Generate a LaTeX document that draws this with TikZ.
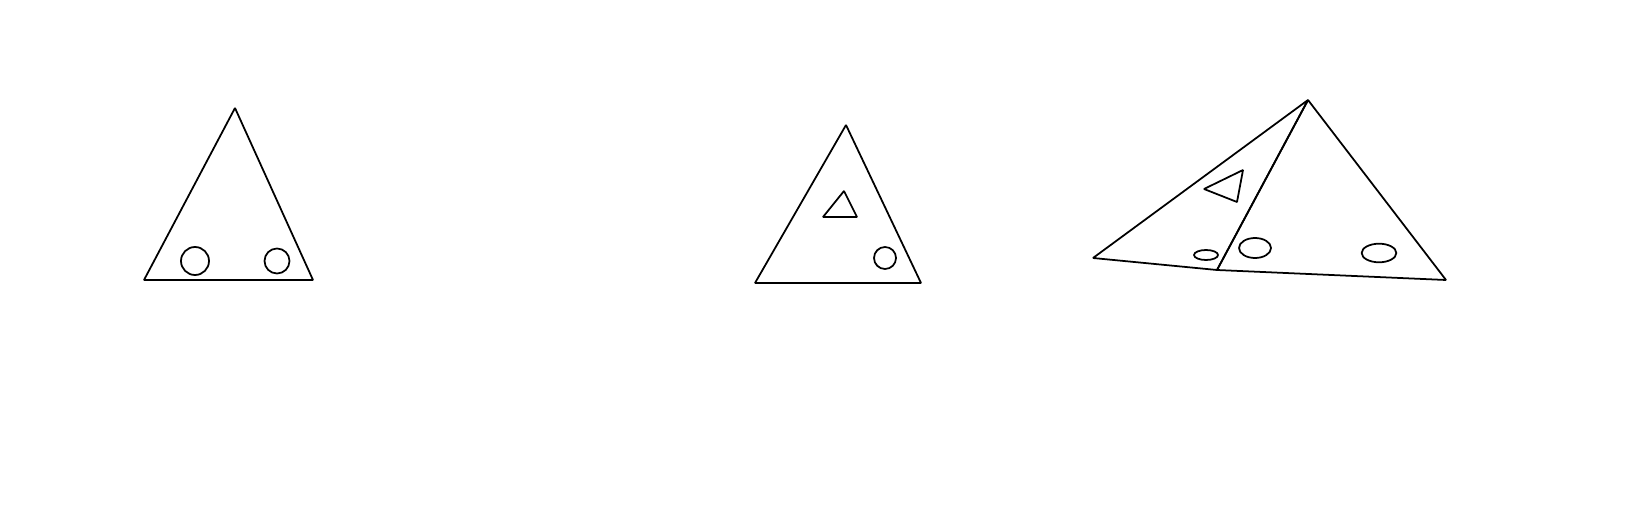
\documentclass[tikz,border=0pt]{standalone}
\usepackage{tikz}

\begin{document}
\begin{tikzpicture}[
  x=0.02cm, y=-0.02cm,
  % ---- outlines ----------------------------------------------------------
  outline/.style={draw=black, line width=1pt, line join=bevel},
  hole/.style={draw=black, line width=1pt},
]

\useasboundingbox (0,0) rectangle (1640,520);

% ---- first shape: triangle with two round holes ---------------------------
\coordinate (ta) at (235,108);
\coordinate (tl) at (144,280);
\coordinate (tr) at (313,280);
\draw[outline] (ta) -- (tl) -- (tr) -- cycle;
\draw[hole] (195,261) circle (14);
\draw[hole] (277,261) circle (12.5);

% ---- second shape: triangle with triangular hole and one round hole -------
\coordinate (ua) at (846,125);
\coordinate (ul) at (755,283);
\coordinate (ur) at (921,283);
\draw[outline] (ua) -- (ul) -- (ur) -- cycle;
\draw[outline] (844,191) -- (823,217) -- (857,217) -- cycle;
\draw[hole] (885,258) circle (11);

% ---- third shape: two triangles sharing an edge -------------------------
\coordinate (va) at (1308,100);
\coordinate (vl) at (1093,258);
\coordinate (vm) at (1217,270);
\coordinate (vr) at (1446,280);
\draw[outline] (va) -- (vl) -- (vm) -- cycle;
\draw[outline] (va) -- (vm) -- (vr) -- cycle;
\draw[outline] (1243,170) -- (1204,189) -- (1237,202) -- cycle;
\draw[hole] (1206,255) ellipse (12 and 5);
\draw[hole] (1255,248) ellipse (16 and 10);
\draw[hole] (1379,253) ellipse (17.3 and 9.3);

\end{tikzpicture}
\end{document}
